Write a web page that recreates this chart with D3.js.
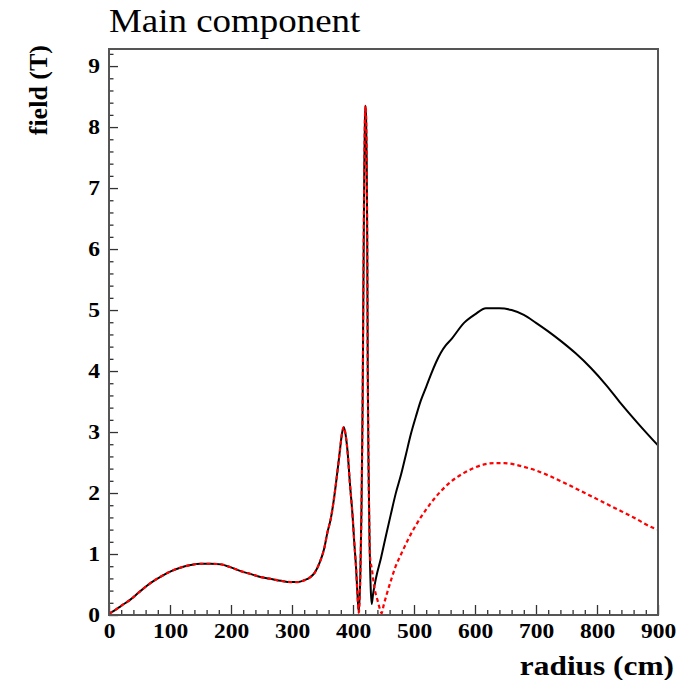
<!DOCTYPE html>
<html>
<head>
<meta charset="utf-8">
<script src="https://cdn.jsdelivr.net/npm/d3@7"></script>
<style>
  body { margin: 0; background: #fff; }
  svg { display: block; font-family: "Liberation Serif", "Times New Roman", serif; }
</style>
</head>
<body>
<div id="chart"></div>
<script>
// both curves lie on top of each other up to ~428 cm
const innerRadius = [0, 10, 20, 36, 50, 69, 85, 102, 118, 134, 150, 167, 184, 200, 216, 233, 250, 266, 282, 298, 310, 320, 330, 337, 345, 353, 358, 364, 368, 372, 376, 379, 382, 385, 388, 391, 395, 399.5, 402, 405, 407, 409.5, 412, 414, 415.8, 417, 418.5, 419.5, 420.5, 421.5, 422.5, 423.3, 424.2, 425.3, 427];
const innerField = [0.02, 0.08, 0.15, 0.26, 0.38, 0.53, 0.63, 0.72, 0.78, 0.82, 0.84, 0.84, 0.83, 0.78, 0.72, 0.67, 0.62, 0.59, 0.56, 0.54, 0.54, 0.57, 0.62, 0.69, 0.85, 1.10, 1.35, 1.60, 1.85, 2.15, 2.48, 2.74, 2.98, 3.08, 2.95, 2.69, 2.15, 1.60, 1.20, 0.78, 0.40, 0.04, 0.65, 1.80, 3.50, 5.30, 7.30, 8.10, 8.35, 8.15, 7.40, 6.20, 4.00, 2.60, 1.30];

// black solid curve beyond the spike
const totalRadius = [429, 430.6, 433, 438, 446, 454, 462, 470, 479, 487, 495, 503, 511, 520, 528, 536, 544, 552, 561, 582, 600, 618, 640, 660, 680, 700, 720, 741, 765, 790, 815, 839, 870, 900];
const totalField = [0.45, 0.18, 0.35, 0.62, 0.94, 1.30, 1.65, 1.99, 2.31, 2.64, 2.97, 3.25, 3.51, 3.74, 3.95, 4.14, 4.30, 4.42, 4.52, 4.79, 4.93, 5.03, 5.03, 5.00, 4.92, 4.79, 4.65, 4.49, 4.29, 4.05, 3.77, 3.47, 3.11, 2.78];

// red dashed curve beyond the spike
const mainRadius = [428, 431, 435, 440, 444, 447, 450, 455, 462, 470, 479, 487, 495, 503, 511, 520, 528, 536, 544, 552, 561, 572, 582, 598, 615, 632, 648, 664, 680, 700, 720, 746, 774, 800, 828, 860, 894, 900];
const mainField = [0.95, 0.75, 0.45, 0.25, 0.10, 0.03, 0.15, 0.33, 0.56, 0.80, 1.00, 1.17, 1.33, 1.47, 1.60, 1.73, 1.84, 1.94, 2.03, 2.11, 2.19, 2.27, 2.33, 2.41, 2.47, 2.49, 2.49, 2.47, 2.43, 2.37, 2.29, 2.17, 2.03, 1.90, 1.76, 1.60, 1.42, 1.40];

const xMajor = [0, 100, 200, 300, 400, 500, 600, 700, 800, 900];
const yMajor = [0, 1, 2, 3, 4, 5, 6, 7, 8, 9];

const W = 688, H = 680;
const frame = { left: 109, right: 658, top: 49, bottom: 615 };
const serif = '"Liberation Serif", "Times New Roman", serif';

const svg = d3.select('#chart').append('svg')
  .attr('width', W)
  .attr('height', H);

const x = d3.scaleLinear().domain([0, 900]).range([frame.left, frame.right]);
const y = d3.scaleLinear().domain([0, 9.28]).range([frame.bottom, frame.top]);

const toPoints = (rs, fs) => rs.map((r, i) => [r, fs[i]]);
const totalPts = toPoints(innerRadius, innerField).concat(toPoints(totalRadius, totalField));
const mainPts = toPoints(innerRadius, innerField).concat(toPoints(mainRadius, mainField));

const line = d3.line()
  .x(d => x(d[0]))
  .y(d => y(d[1]))
  .curve(d3.curveMonotoneX);

svg.append('path')
  .attr('d', line(totalPts))
  .attr('fill', 'none')
  .attr('stroke', '#000')
  .attr('stroke-width', 2);

svg.append('path')
  .attr('d', line(mainPts))
  .attr('fill', 'none')
  .attr('stroke', '#ff0000')
  .attr('stroke-width', 2.2)
  .attr('stroke-dasharray', '4,3');

// minor ticks
const xMinor = d3.range(0, 901, 20).filter(v => v % 100 !== 0);
const yMinor = d3.range(0, 9.21, 0.2).filter(v => Math.abs(v - Math.round(v)) > 0.01);

svg.append('g')
  .attr('transform', `translate(0,${frame.bottom})`)
  .call(d3.axisBottom(x).tickValues(xMinor).tickSizeInner(-5).tickSizeOuter(0).tickFormat(''))
  .call(g => g.select('.domain').remove())
  .selectAll('line').attr('stroke', '#333').attr('stroke-width', 1.3);

svg.append('g')
  .attr('transform', `translate(${frame.left},0)`)
  .call(d3.axisLeft(y).tickValues(yMinor).tickSizeInner(-4.5).tickSizeOuter(0).tickFormat(''))
  .call(g => g.select('.domain').remove())
  .selectAll('line').attr('stroke', '#333').attr('stroke-width', 1.3);

// major ticks + labels
const xAxis = svg.append('g')
  .attr('transform', `translate(0,${frame.bottom})`)
  .call(d3.axisBottom(x).tickValues(xMajor).tickSizeInner(-10).tickSizeOuter(0).tickPadding(8));
xAxis.select('.domain').remove();
xAxis.selectAll('line').attr('stroke', '#333').attr('stroke-width', 1.3);
xAxis.selectAll('text')
  .attr('fill', '#000')
  .attr('font-size', 21)
  .attr('font-weight', 'bold')
  .attr('font-family', serif)
  .attr('transform', 'scale(1.12,1)');

const yAxis = svg.append('g')
  .attr('transform', `translate(${frame.left},0)`)
  .call(d3.axisLeft(y).tickValues(yMajor).tickSizeInner(-9).tickSizeOuter(0).tickPadding(8));
yAxis.select('.domain').remove();
yAxis.selectAll('line').attr('stroke', '#333').attr('stroke-width', 1.3);
yAxis.selectAll('text')
  .attr('fill', '#000')
  .attr('font-size', 21)
  .attr('font-weight', 'bold')
  .attr('font-family', serif)
  .attr('transform', 'scale(1.12,1)');

// frame
svg.append('rect')
  .attr('x', frame.left).attr('y', frame.top)
  .attr('width', frame.right - frame.left).attr('height', frame.bottom - frame.top)
  .attr('fill', 'none')
  .attr('stroke', '#555')
  .attr('stroke-width', 2);

// title and axis titles
svg.append('text')
  .attr('transform', `translate(${frame.left},32) scale(1.12,1)`)
  .attr('font-size', 33)
  .attr('fill', '#000')
  .text('Main component');

svg.append('text')
  .attr('transform', 'translate(674,675) scale(1.12,1)')
  .attr('text-anchor', 'end')
  .attr('font-size', 28)
  .attr('font-weight', 'bold')
  .attr('fill', '#000')
  .text('radius (cm)');

svg.append('text')
  .attr('transform', 'translate(47,45) rotate(-90)')
  .attr('text-anchor', 'end')
  .attr('font-size', 26)
  .attr('font-weight', 'bold')
  .attr('fill', '#000')
  .text('field (T)');
</script>
</body>
</html>
